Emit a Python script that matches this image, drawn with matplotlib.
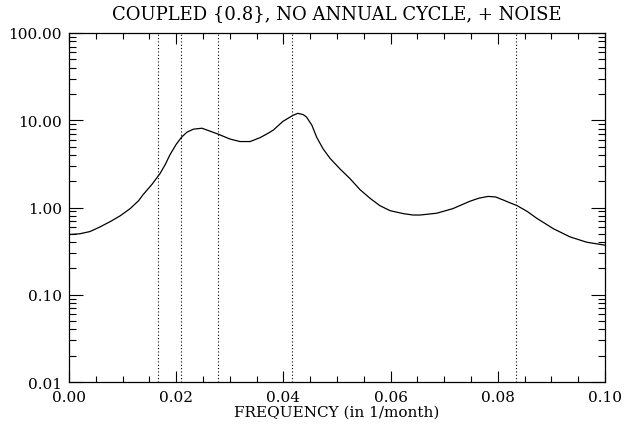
import numpy as np
import matplotlib.pyplot as plt
from matplotlib.ticker import MultipleLocator, LogLocator, FixedLocator, NullFormatter

plt.rcParams['font.family'] = ['DejaVu Serif']

# Power spectrum, read at selected frequencies (1/month)
freq = [0.0, 0.0020, 0.0039, 0.0058, 0.0077, 0.0095, 0.0114, 0.0130,
        0.0138, 0.0155, 0.0170, 0.0180, 0.0188, 0.0200, 0.0210, 0.0220,
        0.0232, 0.0248, 0.0263, 0.0279, 0.0300, 0.0319, 0.0338, 0.0356,
        0.0368, 0.0381, 0.0399, 0.0418, 0.0427, 0.0437, 0.0443, 0.0453,
        0.0462, 0.0474, 0.0487, 0.0506, 0.0524, 0.0543, 0.0562, 0.0580,
        0.0599, 0.0624, 0.0642, 0.0655, 0.0686, 0.0716, 0.0748, 0.0765,
        0.0782, 0.0796, 0.0810, 0.0823, 0.0836, 0.0855, 0.0873, 0.0904,
        0.0935, 0.0966, 0.1000]
power = [0.49, 0.50, 0.53, 0.60, 0.69, 0.80, 0.97, 1.20,
         1.40, 1.85, 2.46, 3.15, 3.99, 5.3, 6.4, 7.3,
         7.9, 8.1, 7.5, 6.9, 6.1, 5.7, 5.7, 6.3,
         6.9, 7.7, 9.7, 11.4, 12.0, 11.6, 10.9, 8.8,
         6.4, 4.7, 3.66, 2.75, 2.15, 1.6, 1.27, 1.05,
         0.92, 0.85, 0.82, 0.82, 0.86, 0.97, 1.18, 1.28,
         1.34, 1.32, 1.22, 1.13, 1.05, 0.90, 0.75, 0.57,
         0.46, 0.40, 0.37]

# Reference periods: 60, 48, 36, 24, 12 months
periods = [60, 48, 36, 24, 12]

fig = plt.figure(figsize=(6.31, 4.27), dpi=100)
ax = fig.add_axes([0.1094, 0.103, 0.8494, 0.8174])

ax.plot(freq, power, color='black', lw=0.9)
for p in periods:
    ax.axvline(1.0 / p, color='black', lw=0.8, linestyle=(0, (1, 2)))

ax.set_yscale('log')
ax.set_xlim(0, 0.1)
ax.set_ylim(0.01, 100)

ax.xaxis.set_major_locator(MultipleLocator(0.02))
ax.xaxis.set_minor_locator(MultipleLocator(0.005))
ax.xaxis.set_major_formatter(plt.FuncFormatter(lambda v, pos: f'{v:.2f}'))
ax.yaxis.set_major_locator(FixedLocator([0.01, 0.1, 1, 10, 100]))
ax.yaxis.set_minor_locator(LogLocator(base=10, subs=np.arange(2, 10)))
ax.yaxis.set_minor_formatter(NullFormatter())
ax.yaxis.set_major_formatter(plt.FuncFormatter(lambda v, pos: f'{v:.2f}'))

ax.tick_params(which='both', direction='in', top=True, right=True,
               labelsize=11, width=0.8, color='black')
ax.tick_params(axis='y', which='major', length=10, pad=5)
ax.tick_params(axis='y', which='minor', length=5)
ax.tick_params(axis='x', which='major', length=8, pad=6)
ax.tick_params(axis='x', which='minor', length=4)
for s in ax.spines.values():
    s.set_linewidth(0.9)

ax.set_xlabel('FREQUENCY (in 1/month)', fontsize=11, labelpad=0)
ax.set_title('COUPLED {0.8}, NO ANNUAL CYCLE, + NOISE', fontsize=13, pad=11)

fig.savefig('out.png', dpi=100)
